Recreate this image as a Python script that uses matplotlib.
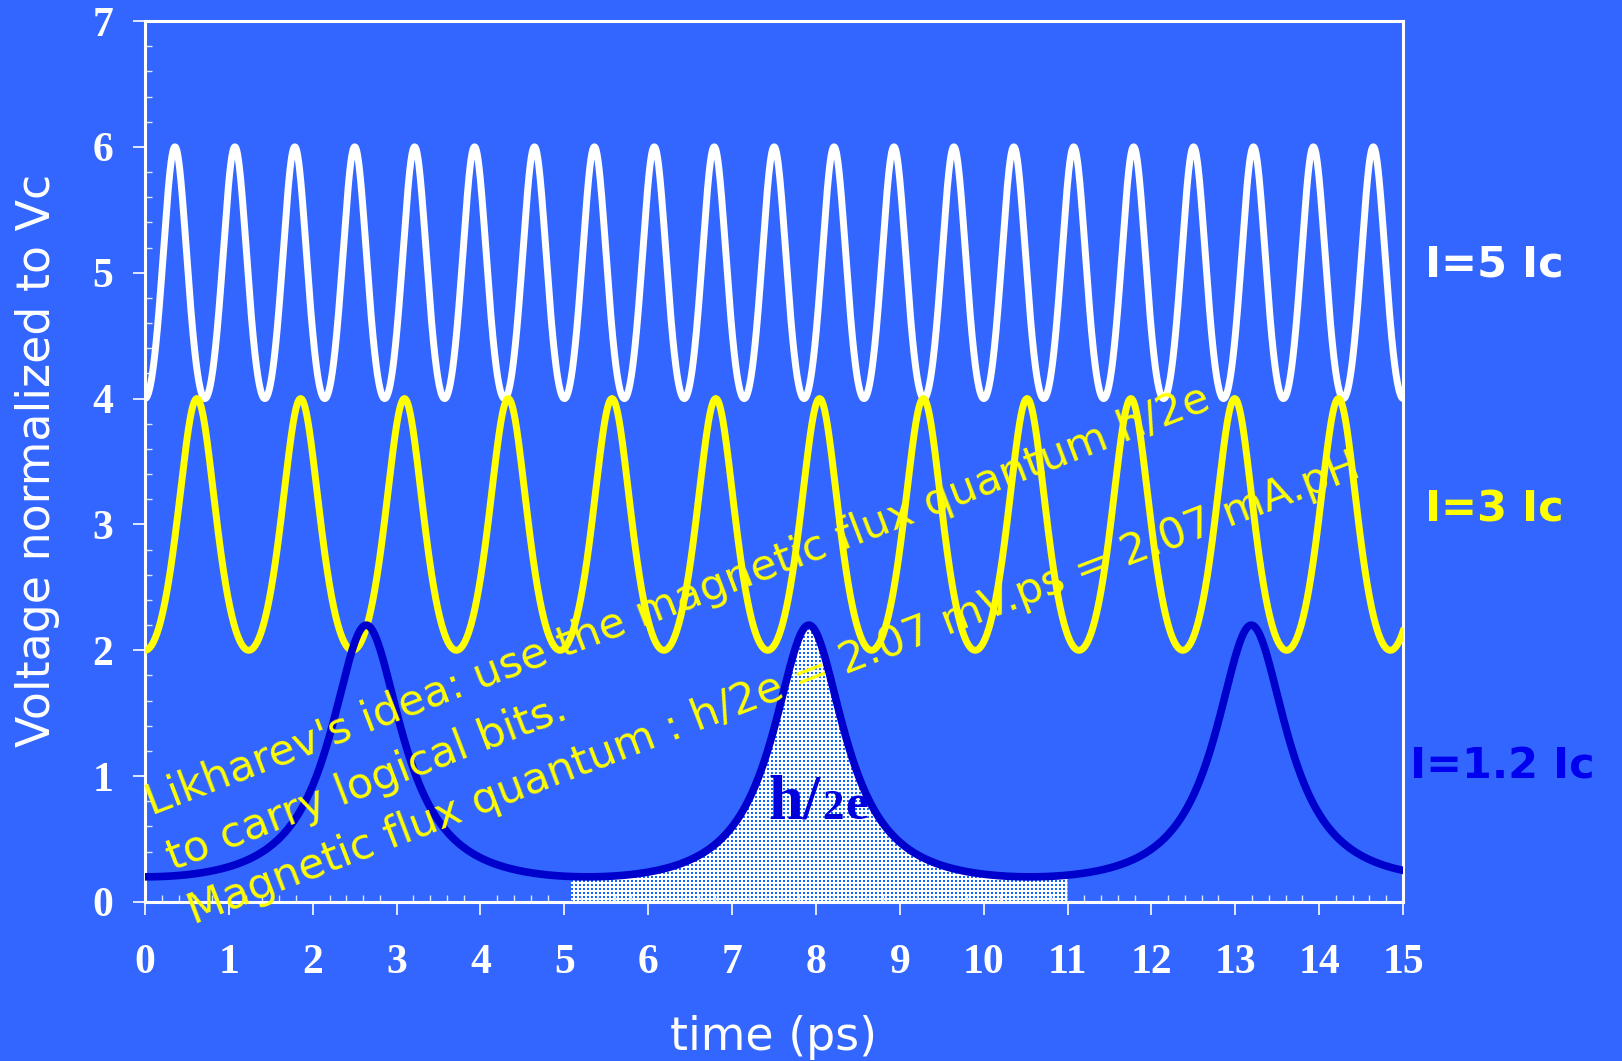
import numpy as np
import matplotlib
matplotlib.use("Agg")
import matplotlib.pyplot as plt
from matplotlib.ticker import MultipleLocator
from matplotlib.offsetbox import TextArea, HPacker, AnnotationBbox

# --- data -------------------------------------------------------------
# RSJ junction, bias currents in units of Ic
bias_currents = [5.0, 3.0, 1.2]
curve_labels = ["I=5 Ic", "I=3 Ic", "I=1.2 Ic"]
curve_colors = ["#FFFFFF", "#FFFF00", "#0000CC"]
label_colors = ["#FFFFFF", "#FFFF00", "#0000EE"]
label_pos = [(15.26, 4.97), (15.26, 3.02), (15.08, 0.985)]
tau_ps = 3.5                      # characteristic time scale (ps)
pulse_window = [5.08, 11.0]       # one flux-quantum pulse, shaded
x_ticks = list(range(0, 16))
y_ticks = list(range(0, 8))

note = ("Likharev's idea: use the magnetic flux quantum h/2e\n"
        "to carry logical bits.\n"
        "Magnetic flux quantum : h/2e = 2.07 mV.ps = 2.07 mA.pH")

BG = "#3366FF"


def rsj_voltage(t, i):
    """Voltage across an overdamped junction, normalised to Vc."""
    w = 2 * np.pi * np.sqrt(i ** 2 - 1) / tau_ps
    return (i ** 2 - 1) / (i + np.cos(w * t))


fig = plt.figure(figsize=(16.22, 10.61), dpi=100, facecolor=BG)
ax = fig.add_axes([145 / 1622, 1 - 902 / 1061, 1258 / 1622, 881 / 1061])
ax.set_facecolor(BG)

t = np.linspace(0, 15, 4000)

# shaded flux-quantum pulse: white with a blue dot screen
tw = np.linspace(pulse_window[0], pulse_window[1], 800)
vw = rsj_voltage(tw, bias_currents[2])
poly = ax.fill_between(tw, 0, vw, facecolor="white", edgecolor="none", zorder=1)
H, W = 300, 520
yy, xx = np.mgrid[0:H, 0:W]
dots = ((yy % 4) < 2) & ((xx % 4) < 2)
img = np.ones((H, W, 4))
img[dots] = matplotlib.colors.to_rgba("#1166FF")
img[~dots, 3] = 0.0
im = ax.imshow(img, extent=[pulse_window[0], pulse_window[0] + W / 83.87,
                            0, H / 125.86],
               origin="lower", interpolation="nearest", aspect="auto", zorder=1.5)
im.set_clip_path(poly.get_paths()[0], transform=ax.transData)

# voltage traces (white drawn first, blue on top)
widths = [5, 5, 5.5]
for k in range(len(bias_currents)):
    ax.plot(t, rsj_voltage(t, bias_currents[k]), color=curve_colors[k],
            lw=widths[k], zorder=3 + k * 0.1)

ax.set_xlim(0, 15)
ax.set_ylim(0, 7)
ax.set_xticks(x_ticks)
ax.set_yticks(y_ticks)
ax.xaxis.set_minor_locator(MultipleLocator(0.2))
ax.yaxis.set_minor_locator(MultipleLocator(0.2))

for s in ax.spines.values():
    s.set_color("white")
    s.set_linewidth(2.2)

ax.tick_params(which="major", direction="out", length=9, width=1.2,
               color="white", labelcolor="white")
ax.tick_params(axis="x", which="major", pad=21)
ax.tick_params(axis="y", which="major", pad=14)
ax.tick_params(which="minor", direction="in", length=5, width=1.0,
               color="#DDE6FF")
ax.tick_params(top=False, right=False, which="both")
for lab in ax.get_xticklabels() + ax.get_yticklabels():
    lab.set_family("Liberation Serif")
    lab.set_fontweight("bold")
    lab.set_fontsize(30)

# axis titles
fig.text(50 / 1622, 1 - 460 / 1061, "Voltage normalized to Vc", rotation=90,
         rotation_mode="anchor", ha="center", va="baseline", color="white",
         fontsize=33, family="DejaVu Sans")
fig.text(774 / 1622, 1 - 1050 / 1061, "time (ps)", ha="center", va="baseline",
         color="white", fontsize=33, family="DejaVu Sans")

# curve labels on the right
for k in range(len(curve_labels)):
    ax.text(label_pos[k][0], label_pos[k][1], curve_labels[k],
            color=label_colors[k], fontsize=31, fontweight="bold",
            family="DejaVu Sans", ha="left", va="baseline", clip_on=False)

# annotation across the plot (anchored at the start of its last line)
ax.text(0.51, -0.06, note, rotation=21, rotation_mode="anchor", ha="left",
        va="baseline", color="#FFFF00", fontsize=31, family="DejaVu Sans",
        linespacing=1.5, zorder=10, clip_on=False)

# h/2e label inside the pulse
fp = dict(color="#0000DD", family="Liberation Serif", fontweight="bold")
parts = HPacker(children=[TextArea("h/", textprops=dict(fontsize=45, **fp)),
                          TextArea("2", textprops=dict(fontsize=31, **fp)),
                          TextArea("e", textprops=dict(fontsize=37, **fp))],
                align="baseline", pad=0, sep=1)
ab = AnnotationBbox(parts, (8.03, 0.78), frameon=False, box_alignment=(0.5, 0.5),
                    zorder=6)
ax.add_artist(ab)

fig.savefig("out.png", dpi=100, facecolor=BG)
